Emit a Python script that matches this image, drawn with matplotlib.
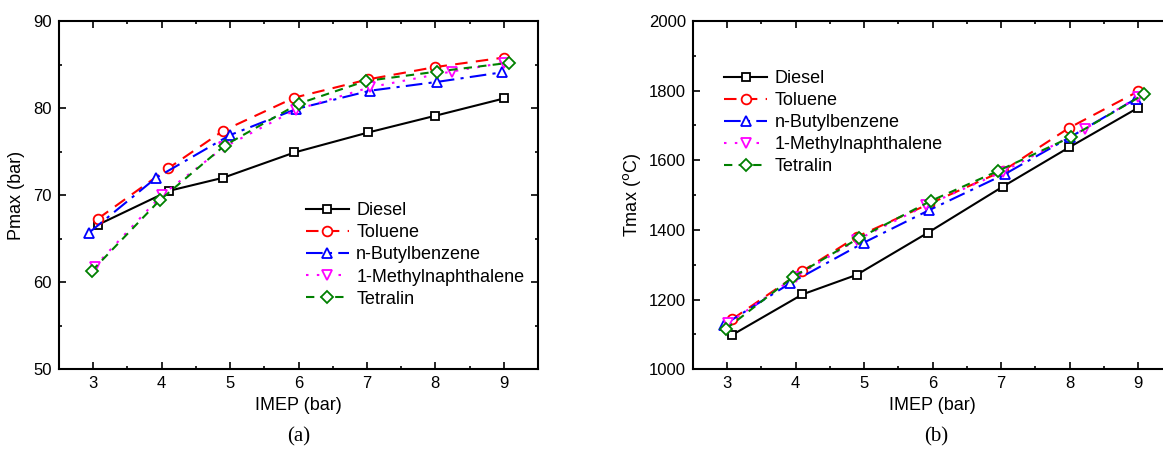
import matplotlib
matplotlib.use("Agg")
import matplotlib.pyplot as plt
from matplotlib.ticker import MultipleLocator

plt.rcParams['font.family'] = ['Liberation Sans', 'DejaVu Sans']

fuels = ['Diesel', 'Toluene', 'n-Butylbenzene', '1-Methylnaphthalene', 'Tetralin']

# IMEP (bar), slightly offset per fuel
imep_diesel = [3.07, 4.11, 4.90, 5.94, 7.02, 7.99, 9.00]
imep_toluene = [3.07, 4.10, 4.90, 5.94, 7.02, 7.99, 9.00]
imep_nbb = [2.94, 3.92, 5.00, 5.97, 7.05, 8.02, 8.97]
imep_1mn = [3.02, 4.00, 4.91, 5.96, 7.05, 8.24, 9.00]
imep_tet = [2.98, 3.97, 4.92, 6.00, 6.98, 8.03, 9.08]

# (a) peak pressure, bar
pmax_diesel = [66.6, 70.5, 72.0, 74.9, 77.2, 79.1, 81.1]
pmax_toluene = [67.3, 73.1, 77.4, 81.2, 83.3, 84.7, 85.8]
pmax_nbb = [65.7, 72.0, 76.9, 79.9, 82.0, 83.0, 84.1]
pmax_1mn = [61.8, 70.0, 75.5, 79.8, 82.4, 84.2, 85.2]
pmax_tet = [61.3, 69.4, 75.7, 80.5, 83.1, 84.2, 85.2]

# (b) peak temperature, degC
imep_b_diesel = [3.07, 4.10, 4.89, 5.93, 7.02, 7.99, 9.00]
imep_b_toluene = [3.07, 4.10, 4.89, 5.95, 7.03, 7.99, 9.00]
imep_b_nbb = [2.95, 3.92, 5.00, 5.95, 7.05, 8.01, 8.97]
imep_b_1mn = [3.02, 4.00, 4.90, 5.91, 7.02, 8.23, 9.00]
imep_b_tet = [2.98, 3.97, 4.92, 5.98, 6.96, 8.02, 9.08]

tmax_diesel = [1098, 1215, 1271, 1392, 1524, 1637, 1751]
tmax_toluene = [1143, 1282, 1380, 1475, 1570, 1693, 1798]
tmax_nbb = [1127, 1247, 1364, 1457, 1560, 1667, 1777]
tmax_1mn = [1132, 1266, 1372, 1471, 1567, 1691, 1782]
tmax_tet = [1115, 1266, 1376, 1484, 1570, 1667, 1789]

styles = [
    dict(color='black', linestyle='-', marker='s', ms=6),
    dict(color='red', linestyle=(0, (6, 4)), marker='o', ms=7),
    dict(color='blue', linestyle=(0, (8, 3, 1.5, 3)), marker='^', ms=7),
    dict(color='magenta', linestyle=(0, (1.2, 4)), marker='v', ms=7),
    dict(color='green', linestyle=(0, (4, 3)), marker='D', ms=6.5),
]

fig = plt.figure(figsize=(11.63, 4.5), dpi=100)
axa = fig.add_axes([59 / 1163, 80.7 / 450, 479 / 1163, 348.3 / 450])
axb = fig.add_axes([692.7 / 1163, 80.7 / 450, 479.8 / 1163, 348.3 / 450])

panel_a = [(imep_diesel, pmax_diesel), (imep_toluene, pmax_toluene), (imep_nbb, pmax_nbb),
           (imep_1mn, pmax_1mn), (imep_tet, pmax_tet)]
panel_b = [(imep_b_diesel, tmax_diesel), (imep_b_toluene, tmax_toluene), (imep_b_nbb, tmax_nbb),
           (imep_b_1mn, tmax_1mn), (imep_b_tet, tmax_tet)]

for ax, data in [(axa, panel_a), (axb, panel_b)]:
    for (x, y), name, st in zip(data, fuels, styles):
        ax.plot(x, y, label=name, color=st['color'], linestyle=st['linestyle'], lw=1.5,
                marker=st['marker'], ms=st['ms'], mfc='white', mec=st['color'], mew=1.3)
    ax.set_xlim(2.5, 9.5)
    ax.xaxis.set_major_locator(MultipleLocator(1))
    ax.xaxis.set_minor_locator(MultipleLocator(0.5))
    ax.tick_params(which='both', direction='in', top=True, right=True, width=1.2, labelsize=12)
    ax.tick_params(which='major', length=5, pad=5)
    ax.tick_params(which='minor', length=2.5)
    for s in ax.spines.values():
        s.set_linewidth(1.5)
    ax.set_xlabel('IMEP (bar)', fontsize=13, labelpad=4)

axa.set_ylim(50, 90)
axa.yaxis.set_major_locator(MultipleLocator(10))
axa.yaxis.set_minor_locator(MultipleLocator(5))
axa.set_ylabel('Pmax (bar)', fontsize=13, labelpad=6)
axa.legend(loc='upper left', bbox_to_anchor=(0.50, 0.50), frameon=False, fontsize=13,
           handlelength=2.4, handletextpad=0.4, labelspacing=0.28, borderaxespad=0)

axb.set_ylim(1000, 2000)
axb.yaxis.set_major_locator(MultipleLocator(200))
axb.yaxis.set_minor_locator(MultipleLocator(100))
axb.set_ylabel(r'Tmax ($^{\mathrm{o}}$C)', fontsize=13, labelpad=4)
axb.legend(loc='upper left', bbox_to_anchor=(0.05, 0.88), frameon=False, fontsize=13,
           handlelength=2.4, handletextpad=0.4, labelspacing=0.28, borderaxespad=0)

fig.text(298.5 / 1163, 1 - 437 / 450, '(a)', ha='center', va='center',
         family='Liberation Serif', fontsize=15)
fig.text(936 / 1163, 1 - 437 / 450, '(b)', ha='center', va='center',
         family='Liberation Serif', fontsize=15)

fig.savefig('out.png', dpi=100)
